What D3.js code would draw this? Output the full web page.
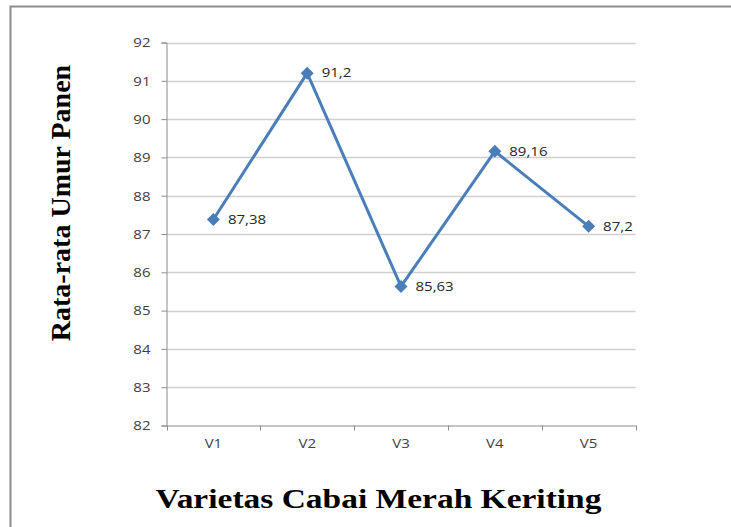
<!DOCTYPE html>
<html><head><meta charset="utf-8">
<script src="https://cdn.jsdelivr.net/npm/d3@7"></script>
<style>body{margin:0;background:#fff}svg{display:block}</style>
</head><body>
<svg id="c" width="731" height="527"></svg>
<script>
const categories = ["V1","V2","V3","V4","V5"];
const values = [87.38, 91.2, 85.63, 89.16, 87.2];
const labels = ["87,38","91,2","85,63","89,16","87,2"];
const yTicks = [82,83,84,85,86,87,88,89,90,91,92];

const svg = d3.select("#c");
const L = 166.5, R = 635.5, T = 42.5, B = 425.5;
const SX = 1.25; // horizontal stretch of small labels

// frame
svg.append("rect").attr("x",10.5).attr("y",6.5).attr("width",760).attr("height",560)
  .attr("fill","none").attr("stroke","#8c8c8c").attr("stroke-width",2);

const x = d3.scaleBand().domain(categories).range([L, R]);
const y = d3.scaleLinear().domain([82, 92]).range([B, T]);

// gridlines
svg.append("g").selectAll("line").data(yTicks.filter(d=>d>82)).join("line")
  .attr("x1", L).attr("x2", R).attr("y1", d=>Math.round(y(d))+0.5).attr("y2", d=>Math.round(y(d))+0.5)
  .attr("stroke","#d0d0d0").attr("stroke-width",1.5);

// y axis
const yAxis = d3.axisLeft(y).tickValues(yTicks).tickSize(5).tickFormat(d3.format("d"));
const gy = svg.append("g").attr("transform",`translate(${L},0)`).call(yAxis);
gy.select(".domain").attr("stroke","#8c8c8c");
gy.selectAll(".tick line").attr("stroke","#8c8c8c");
gy.selectAll("text").attr("x",0).attr("dy",null).attr("y",0)
  .attr("transform",`translate(-16,4.3) scale(${SX},1)`)
  .attr("font-family","'Open Sans', sans-serif").attr("font-size",12).attr("fill","#404040");

// x axis
const xAxis = d3.axisBottom(x).tickSize(0);
const gx = svg.append("g").attr("transform",`translate(0,${B})`).call(xAxis);
gx.select(".domain").attr("stroke","#8c8c8c");
gx.selectAll("text").attr("y",0).attr("dy",null)
  .attr("transform",`translate(0,22.5) scale(${SX},1)`)
  .attr("font-family","'Open Sans', sans-serif").attr("font-size",12).attr("fill","#404040");
// category boundary ticks
const bounds = categories.map(c=>x(c)).concat([R]);
svg.append("g").selectAll("line").data(bounds).join("line")
  .attr("x1",d=>Math.round(d)+0.5).attr("x2",d=>Math.round(d)+0.5)
  .attr("y1",B).attr("y2",B+5).attr("stroke","#8c8c8c");

const cx = c => x(c) + x.bandwidth()/2;
const pts = categories.map((c,i)=>({c, v: values[i], lab: labels[i]}));

svg.append("path").datum(pts)
  .attr("d", d3.line().x(d=>cx(d.c)).y(d=>y(d.v)))
  .attr("fill","none").attr("stroke","#4a7ebb").attr("stroke-width",3).attr("stroke-linejoin","round");

svg.append("g").selectAll("path").data(pts).join("path")
  .attr("transform", d=>`translate(${cx(d.c)},${y(d.v)})`)
  .attr("d","M0,-6.5L6.5,0L0,6.5L-6.5,0Z").attr("fill","#4a7ebb");

svg.append("g").selectAll("text").data(pts).join("text")
  .attr("transform", d=>`translate(${cx(d.c)+14.5},${y(d.v)+4.3}) scale(${SX},1)`)
  .attr("font-family","'Open Sans', sans-serif").attr("font-size",12).attr("fill","#262626")
  .text(d=>d.lab);

// axis titles
svg.append("text").attr("transform","translate(70,203) rotate(-90)")
  .attr("text-anchor","middle").attr("font-family","'Liberation Serif', 'Times New Roman', serif")
  .attr("font-weight","bold").attr("font-size",28).attr("fill","#000")
  .text("Rata-rata Umur Panen");
svg.append("text").attr("transform","translate(378.5,508) scale(1.24,1)")
  .attr("text-anchor","middle").attr("font-family","'Liberation Serif', 'Times New Roman', serif")
  .attr("font-weight","bold").attr("font-size",27).attr("fill","#000")
  .text("Varietas Cabai Merah Keriting");
</script>
</body></html>
